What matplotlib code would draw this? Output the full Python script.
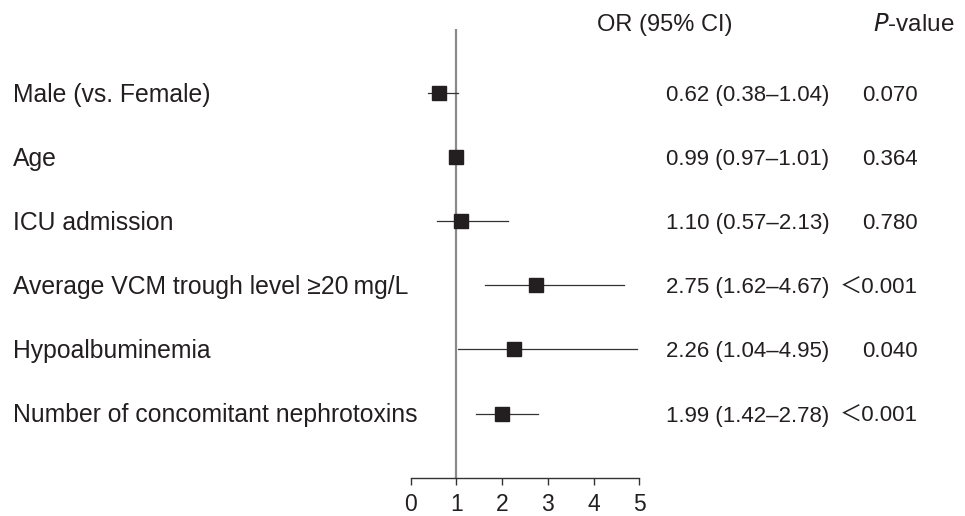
import matplotlib
matplotlib.use("Agg")
import matplotlib.pyplot as plt
from matplotlib.transforms import blended_transform_factory, offset_copy

plt.rcParams['font.family'] = ['Liberation Sans', 'Noto Sans CJK JP', 'DejaVu Sans']

labels = ["Male (vs. Female)", "Age", "ICU admission",
          "Average VCM trough level \u226520\u2009mg/L", "Hypoalbuminemia",
          "Number of concomitant nephrotoxins"]
odds = [0.62, 0.99, 1.10, 2.75, 2.26, 1.99]
ci_low = [0.38, 0.97, 0.57, 1.62, 1.04, 1.42]
ci_high = [1.04, 1.01, 2.13, 4.67, 4.95, 2.78]
or_text = ["0.62 (0.38\u20131.04)", "0.99 (0.97\u20131.01)", "1.10 (0.57\u20132.13)",
           "2.75 (1.62\u20134.67)", "2.26 (1.04\u20134.95)", "1.99 (1.42\u20132.78)"]
p_text = ["0.070", "0.364", "0.780", "\uff1c0.001", "0.040", "\uff1c0.001"]
xticks = [0, 1, 2, 3, 4, 5]

W, H = 965, 516
fig = plt.figure(figsize=(W / 100, H / 100), dpi=100)
ax = fig.add_axes([410.7 / W, (H - 477.7) / H, (639.3 - 410.7) / W, 448.7 / H])

txt_color = "#231f20"
fs_lab = 17.8
fs_num = 16
rows = list(range(1, len(labels) + 1))

ax.axvline(1, color="#8a8a8a", lw=1.6, zorder=1)
for y, o, lo, hi in zip(rows, odds, ci_low, ci_high):
    ax.plot([lo, hi], [y, y], color="#333333", lw=0.9, zorder=2, clip_on=False)
    ax.plot([o], [y], marker="s", ms=10, color=txt_color, zorder=3, clip_on=False)

ax.set_xlim(0, 5)
ax.set_ylim(7, 0)
for s in ["top", "right", "left"]:
    ax.spines[s].set_visible(False)
ax.spines["bottom"].set_color("#333333")
ax.spines["bottom"].set_linewidth(1.0)
ax.set_yticks([])
ax.set_xticks(xticks)
ax.set_xticklabels([str(t) for t in xticks])
ax.tick_params(axis="x", direction="out", length=4.8, width=1.0, color="#333333",
               labelsize=16.5, labelcolor=txt_color, pad=6.5)

tr = blended_transform_factory(fig.transFigure, ax.transData)
tr_lab = offset_copy(tr, fig=fig, y=-0.358 * fs_lab, units="points")
tr_num = offset_copy(tr, fig=fig, y=-0.358 * fs_num, units="points")
for y, lab, ot, pt in zip(rows, labels, or_text, p_text):
    fig.text(13 / W, y, lab, transform=tr_lab, ha="left", va="baseline", fontsize=fs_lab, color=txt_color)
    fig.text(666 / W, y, ot, transform=tr_num, ha="left", va="baseline", fontsize=fs_num, color=txt_color)
    fig.text(918 / W, y, pt, transform=tr_num, ha="right", va="baseline", fontsize=fs_num, color=txt_color)

fig.text(597 / W, 1 - 25 / H, "OR (95% CI)", ha="left", va="center", fontsize=17, color=txt_color)
fig.text(873 / W, 1 - 25 / H, r"$\it{P}$-value", ha="left", va="center", fontsize=17.5, color=txt_color)

fig.savefig("out.png", dpi=100)
